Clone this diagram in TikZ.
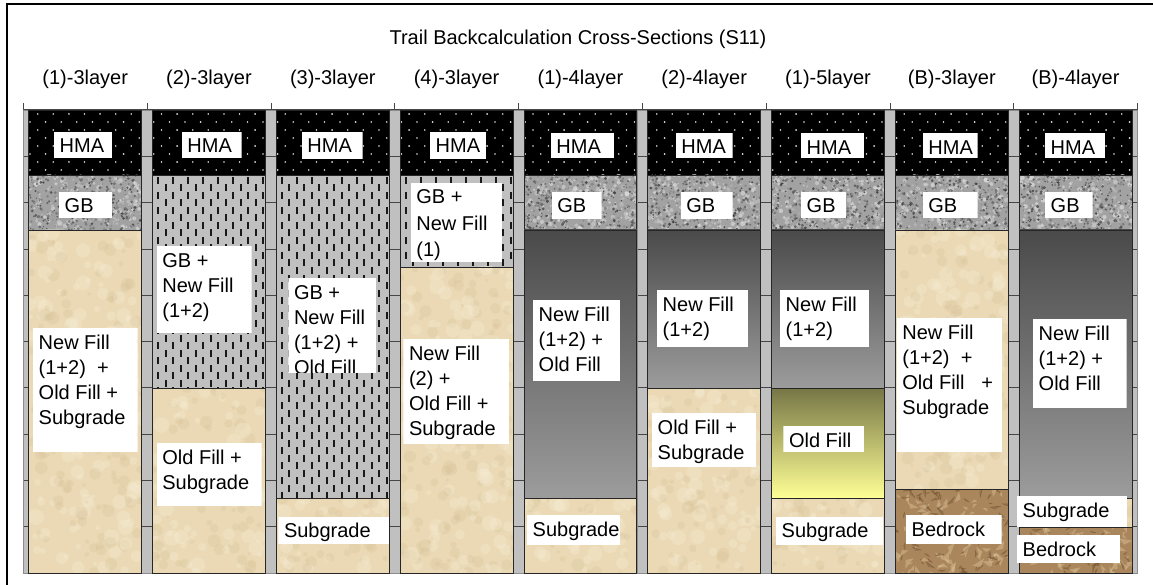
\documentclass[tikz,border=0pt]{standalone}
\usepackage{fontspec}
\setmainfont{Liberation Sans}

\definecolor{edgegray}{RGB}{38,38,38}
\definecolor{tickgray}{RGB}{70,70,70}
\definecolor{stripfill}{RGB}{192,192,192}
\definecolor{stripline}{RGB}{140,140,140}
\definecolor{hmadot}{RGB}{225,225,225}
\definecolor{gbbase}{RGB}{162,162,162}
\definecolor{dashbg}{RGB}{192,192,192}
\definecolor{dashink}{RGB}{25,25,25}
\definecolor{sandbase}{RGB}{234,217,180}
\definecolor{sandlight}{RGB}{246,236,212}
\definecolor{sanddark}{RGB}{214,192,150}
\definecolor{graytop}{RGB}{74,74,74}
\definecolor{graybot}{RGB}{156,156,156}
\definecolor{oldtop}{RGB}{118,118,70}
\definecolor{oldbot}{RGB}{255,255,150}
\definecolor{rockbase}{RGB}{170,134,92}
\definecolor{rockdark}{RGB}{110,80,48}
\definecolor{rocklight}{RGB}{222,198,156}

% column width (pt); every column starts at its left edge x
\newcommand\colw{112.8}

% asphalt: black with a staggered grid of light dots
\newcommand\soilHMA[1]{%
  \fill[black] (#1,110) rectangle ({#1+\colw},175);
  \begin{scope}
    \clip (#1,110) rectangle ({#1+\colw},175);
    \foreach \j in {0,...,7}{
      \pgfmathsetmacro\dy{114+8*\j}
      \pgfmathsetmacro\dx{mod(\j,2)==0 ? 8.9 : 1.2}
      \foreach \i in {0,...,7}{
        \fill[hmadot] ({#1+\dx+15.6*\i},\dy) circle[radius=0.9pt];
      }
    }
  \end{scope}
  \draw[layeredge] (#1,110) rectangle ({#1+\colw},175);}

% granular base: mottled grey granite
\newcommand\soilGB[1]{%
  \fill[gbbase] (#1,175) rectangle ({#1+\colw},230);
  \begin{scope}
    \clip (#1,175) rectangle ({#1+\colw},230);
    \foreach \n in {1,...,220}{
      \pgfmathsetmacro\qx{#1+rnd*\colw}
      \pgfmathsetmacro\qy{175+rnd*55}
      \pgfmathsetmacro\qr{0.8+rnd*1.6}
      \pgfmathsetmacro\qg{12+rnd*16}
      \fill[black!\qg!white,opacity=.7] (\qx,\qy) circle[radius=\qr pt];
    }
    \foreach \n in {1,...,320}{
      \pgfmathsetmacro\px{#1+rnd*\colw}
      \pgfmathsetmacro\py{175+rnd*55}
      \pgfmathsetmacro\pr{0.5+rnd*1.2}
      \pgfmathsetmacro\pg{45+rnd*35}
      \fill[black!\pg!white,opacity=.8] (\px,\py) circle[radius=\pr pt];
    }
  \end{scope}
  \draw[layeredge] (#1,175) rectangle ({#1+\colw},230);}

% mixed GB + new fill: grey with staggered short dashes
\newcommand\soilDash[3]{%
  \fill[dashbg] (#1,#2) rectangle ({#1+\colw},#3);
  \begin{scope}
    \clip (#1,#2) rectangle ({#1+\colw},#3);
    \pgfmathtruncatemacro\nrow{(#3-#2)/15+1}
    \foreach \i in {0,...,14}{
      \pgfmathsetmacro\ox{#1+5.5+7.5*\i}
      \pgfmathsetmacro\oy{#2+2+mod(\i,2)*7.5}
      \foreach \j in {0,...,\nrow}{
        \fill[dashink] ({\ox-1},{\oy+15*\j}) rectangle ({\ox+1},{\oy+15*\j+7});
      }
    }
  \end{scope}
  \draw[layeredge] (#1,#2) rectangle ({#1+\colw},#3);}

% sand-coloured fill / subgrade with soft mottling
\newcommand\soilSand[3]{%
  \fill[sandbase] (#1,#2) rectangle ({#1+\colw},#3);
  \begin{scope}
    \clip (#1,#2) rectangle ({#1+\colw},#3);
    \pgfmathtruncatemacro\nb{(#3-#2)/2.5}
    \foreach \n in {1,...,\nb}{
      \pgfmathsetmacro\px{#1+rnd*\colw}
      \pgfmathsetmacro\py{#2+rnd*(#3-#2)}
      \pgfmathsetmacro\pr{2+rnd*6}
      \fill[sandlight,opacity=.35] (\px,\py) circle[radius=\pr pt];
      \pgfmathsetmacro\qx{#1+rnd*\colw}
      \pgfmathsetmacro\qy{#2+rnd*(#3-#2)}
      \pgfmathsetmacro\qr{1.5+rnd*5}
      \fill[sanddark,opacity=.25] (\qx,\qy) circle[radius=\qr pt];
    }
  \end{scope}
  \draw[layeredge] (#1,#2) rectangle ({#1+\colw},#3);}

% new fill: dark-to-light grey gradient
\newcommand\soilGray[3]{%
  \shade[top color=graytop,bottom color=graybot] (#1,#2) rectangle ({#1+\colw},#3);
  \draw[layeredge] (#1,#2) rectangle ({#1+\colw},#3);}

% old fill: olive-to-yellow gradient
\newcommand\soilOld[3]{%
  \shade[top color=oldtop,bottom color=oldbot] (#1,#2) rectangle ({#1+\colw},#3);
  \draw[layeredge] (#1,#2) rectangle ({#1+\colw},#3);}

% bedrock: brown crumpled facets
\newcommand\soilRock[3]{%
  \fill[rockbase] (#1,#2) rectangle ({#1+\colw},#3);
  \begin{scope}
    \clip (#1,#2) rectangle ({#1+\colw},#3);
    \pgfmathtruncatemacro\nb{(#3-#2)*1.1}
    \foreach \n in {1,...,\nb}{
      \pgfmathsetmacro\px{#1-4+rnd*(\colw+8)}
      \pgfmathsetmacro\py{#2-4+rnd*(#3-#2+8)}
      \pgfmathsetmacro\pa{rnd*360}
      \pgfmathsetmacro\pl{4+rnd*10}
      \fill[rocklight,opacity=.45] (\px,\py) -- ++(\pa:\pl pt) -- ++({\pa+140}:{0.6*\pl pt}) -- cycle;
      \pgfmathsetmacro\qx{#1-4+rnd*(\colw+8)}
      \pgfmathsetmacro\qy{#2-4+rnd*(#3-#2+8)}
      \pgfmathsetmacro\qa{rnd*360}
      \pgfmathsetmacro\ql{3+rnd*9}
      \fill[rockdark,opacity=.4] (\qx,\qy) -- ++(\qa:\ql pt) -- ++({\qa+150}:{0.5*\ql pt}) -- cycle;
      \draw[rockdark,line width=0.5pt,opacity=.6] (\qx,\qy) -- ++(\qa:\ql pt);
    }
  \end{scope}
  \draw[layeredge] (#1,#2) rectangle ({#1+\colw},#3);}

% vertical depth strip between columns
\newcommand\rulerstrip[2]{%
  \fill[stripfill] (#1,110) rectangle (#2,573);
  \foreach \m in {1,...,9}{
    \draw[tickline] (#1,{110+46.3*\m}) -- (#2,{110+46.3*\m});
  }
  \draw[stripedge] (#1,110) rectangle (#2,573);}

% white label box with left-aligned text, clipped to the box
\newcommand\lbl[7][25]{%
  \begin{scope}
    \clip (#3,#4) rectangle (#5,#6);
    \fill[white] (#3,#4) rectangle (#5,#6);
    \node[lbltext,font={\fontsize{20}{#1}\selectfont}] (#2) at ({#3+5.5},{#4+5}) {\rule{0pt}{16pt}#7};
  \end{scope}}

\begin{document}
\begin{tikzpicture}[x=1pt,y=-1pt,
    layeredge/.style={draw=edgegray,line width=0.8pt},
    tickline/.style={draw=tickgray,line width=0.7pt},
    stripedge/.style={draw=stripline,line width=0.5pt},
    rulerline/.style={draw=tickgray,line width=0.8pt},
    hdr/.style={anchor=base,inner sep=0,font={\fontsize{20}{24}\selectfont}},
    lbltext/.style={anchor=north west,inner sep=0,align=left,text=black}]
  \useasboundingbox (0,0) rectangle (1153,585);
  \pgfmathsetseed{4711}

  % outer frame
  \draw[line width=1.8pt] (7,585) -- (7,4) -- (1153,4);

  % title and column headings
  \node[hdr] (title) at (578,45) {Trail Backcalculation Cross-Sections (S11)};
  \node[hdr] (h0) at (85.2,85) {(1)-3layer};
  \node[hdr] (h1) at (209.0,85) {(2)-3layer};
  \node[hdr] (h2) at (332.8,85) {(3)-3layer};
  \node[hdr] (h3) at (456.6,85) {(4)-3layer};
  \node[hdr] (h4) at (580.4,85) {(1)-4layer};
  \node[hdr] (h5) at (704.2,85) {(2)-4layer};
  \node[hdr] (h6) at (828.0,85) {(1)-5layer};
  \node[hdr] (h7) at (951.8,85) {(B)-3layer};
  \node[hdr] (h8) at (1075.6,85) {(B)-4layer};

  % top ruler
  \draw[rulerline] (23.3,109.5) -- (1137.5,109.5);
  \foreach \k in {0,...,9}{
    \draw[rulerline] ({23.3+123.8*\k},103) -- ({23.3+123.8*\k},109.5);
  }

  % depth strips
  \rulerstrip{23.3}{28.8}
  \foreach \k in {1,...,8}{
    \pgfmathsetmacro\sa{23.3+123.8*\k-5.5}
    \pgfmathsetmacro\sb{23.3+123.8*\k+5.5}
    \rulerstrip{\sa}{\sb}
  }
  \rulerstrip{1132}{1137.5}

  % (1)-3layer
  \soilHMA{28.8}\soilGB{28.8}\soilSand{28.8}{230}{573}
  % (2)-3layer
  \soilHMA{152.6}\soilDash{152.6}{175}{388}\soilSand{152.6}{388}{573}
  % (3)-3layer
  \soilHMA{276.4}\soilDash{276.4}{175}{498}\soilSand{276.4}{498}{573}
  % (4)-3layer
  \soilHMA{400.2}\soilDash{400.2}{175}{267}\soilSand{400.2}{267}{573}
  % (1)-4layer
  \soilHMA{524.0}\soilGB{524.0}\soilGray{524.0}{230}{498}\soilSand{524.0}{498}{573}
  % (2)-4layer
  \soilHMA{647.8}\soilGB{647.8}\soilGray{647.8}{230}{388}\soilSand{647.8}{388}{573}
  % (1)-5layer
  \soilHMA{771.6}\soilGB{771.6}\soilGray{771.6}{230}{388}\soilOld{771.6}{388}{498}\soilSand{771.6}{498}{573}
  % (B)-3layer
  \soilHMA{895.4}\soilGB{895.4}\soilSand{895.4}{230}{489}\soilRock{895.4}{489}{573}
  % (B)-4layer
  \soilHMA{1019.2}\soilGB{1019.2}\soilGray{1019.2}{230}{498}\soilSand{1019.2}{498}{527}\soilRock{1019.2}{527}{573}

  % layer labels
  \lbl{hmaA}{54}{131.7}{112}{158.3}{HMA}
  \lbl{gbA}{59}{191.7}{112}{218.3}{GB}
  \lbl{fillA}{33}{328}{137.7}{451.7}{New Fill\\(1+2)\ \ +\\Old Fill +\\Subgrade}

  \lbl{hmaB}{181.7}{131.7}{241.7}{158.3}{HMA}
  \lbl{mixB}{156.7}{246}{251.7}{333}{GB +\\New Fill\\(1+2)}
  \lbl{oldB}{156.7}{443.3}{261.7}{506}{Old Fill +\\Subgrade}

  \lbl{hmaC}{301.7}{131.7}{362.7}{159}{HMA}
  \lbl{mixC}{288.3}{278.3}{376}{372.5}{GB +\\New Fill\\(1+2) +\\Old Fill}
  \lbl{subC}{278.3}{516.7}{389.3}{544.3}{Subgrade}

  \lbl{hmaD}{430}{131.7}{486}{159}{HMA}
  \lbl[26.5]{mixD}{410.7}{182.7}{502.3}{261.7}{GB +\\New Fill\\(1)}
  \lbl{fillD}{403.3}{339}{509.3}{444}{New Fill\\(2) +\\Old Fill +\\Subgrade}

  \lbl{hmaE}{550.7}{132.7}{614}{157.7}{HMA}
  \lbl{gbE}{551.7}{191.7}{601.7}{219}{GB}
  \lbl{fillE}{533}{300}{620}{381}{New Fill\\(1+2) +\\Old Fill}
  \lbl{subE}{527}{515}{620}{545}{Subgrade}

  \lbl{hmaF}{675.7}{132.7}{732.7}{157.7}{HMA}
  \lbl{gbF}{680.7}{191.7}{732.7}{219}{GB}
  \lbl{fillF}{657}{290}{748}{347}{New Fill\\(1+2)}
  \lbl{oldF}{652}{413}{756}{467}{Old Fill +\\Subgrade}

  \lbl{hmaG}{801}{133.3}{864}{158.3}{HMA}
  \lbl{gbG}{801}{191.7}{846}{218.3}{GB}
  \lbl{fillG}{780}{290}{869}{347}{New Fill\\(1+2)}
  \lbl{oldG}{783.3}{426}{864}{451.7}{Old Fill}
  \lbl{subG}{776}{516.7}{883.3}{545}{Subgrade}

  \lbl{hmaH}{922.7}{133.3}{977.7}{158.3}{HMA}
  \lbl{gbH}{922.7}{191.7}{977.7}{218.3}{GB}
  \lbl{fillH}{896.7}{318}{1002.3}{451.7}{New Fill\\(1+2)\ \ +\\Old Fill\ \ \ +\\Subgrade}
  \lbl{rockH}{906}{515}{1001.7}{544.3}{Bedrock}

  \lbl{hmaI}{1045}{133.3}{1105}{158.3}{HMA}
  \lbl{gbI}{1045}{191.7}{1092.7}{218.3}{GB}
  \lbl{fillI}{1033}{319}{1126.7}{407.7}{New Fill\\(1+2) +\\Old Fill}
  \lbl{subI}{1017}{496}{1127}{527}{Subgrade}
  \lbl{rockI}{1017}{535}{1120}{563}{Bedrock}
\end{tikzpicture}
\end{document}
